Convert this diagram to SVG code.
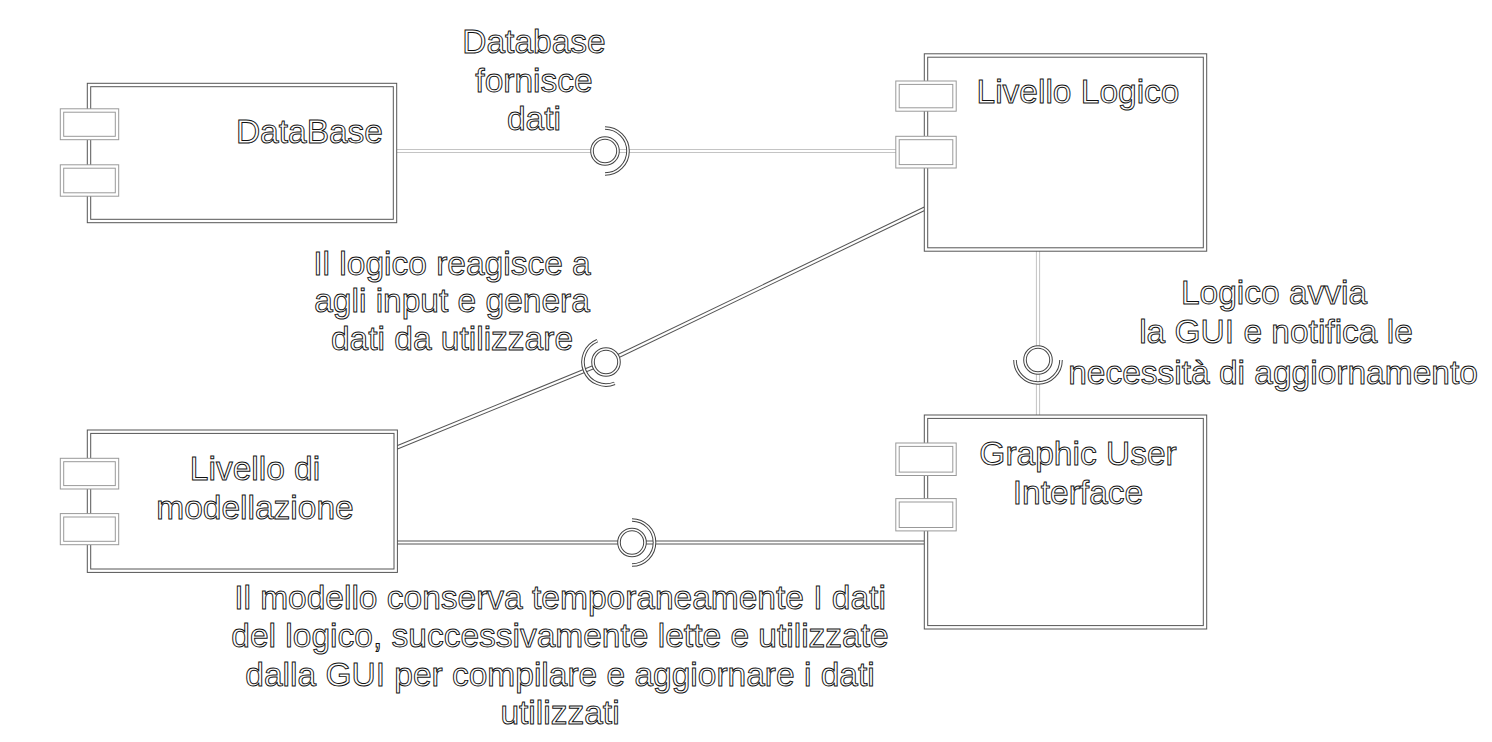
<svg xmlns="http://www.w3.org/2000/svg" xmlns:xlink="http://www.w3.org/1999/xlink" width="1492" height="742" viewBox="0 0 1492 742">
  <style>
    .bo { fill: #fff; stroke: #555; stroke-width: 4.4; }
    .po { fill: #fff; stroke: #999; stroke-width: 4.4; }
    .bi { fill: none; stroke: #fff; stroke-width: 2.4; }
    .ld { fill: none; stroke: #555; stroke-width: 4.2; }
    .ll { fill: none; stroke: #c4c4c4; stroke-width: 4.2; }
    .li { fill: none; stroke: #fff; stroke-width: 2.2; }
    .bd { fill: #fff; stroke: #444; stroke-width: 3.6; }
    .ad { fill: none; stroke: #444; stroke-width: 3.6; }
    .bw { fill: none; stroke: #fff; stroke-width: 1.6; }
    .t { font-family: "Liberation Sans", Arial, sans-serif; font-size: 33.5px; fill: #fff; stroke: #111; stroke-width: 0.95; }
    .m { text-anchor: middle; }
    .e { text-anchor: end; }
  </style>
  <defs>
    <path id="p1" d="M395,151 H897.5"/>
    <path id="p2" d="M926,208 L606,362 L395.7,448"/>
    <path id="p3" d="M1038,250 V416.7"/>
    <path id="p4" d="M395.7,542.5 H926"/>
    <circle id="b1" cx="605" cy="151" r="13"/>
    <path id="a1" d="M605,128 A23,23 0 0 1 605,174"/>
    <circle id="b2" cx="606" cy="362" r="13"/>
    <path id="a2" d="M614.7,383.3 A23,23 0 0 1 597.3,340.7"/>
    <circle id="b3" cx="1038" cy="360" r="13"/>
    <path id="a3" d="M1015,360 A23,23 0 0 0 1061,360"/>
    <circle id="b4" cx="632" cy="542.5" r="13"/>
    <path id="a4" d="M632,520 A22.5,22.5 0 0 1 632,565"/>
  </defs>
  <rect width="1492" height="742" fill="#fff"/>

  <g id="connectors">
    <use xlink:href="#p1" class="ll"/><use xlink:href="#p1" class="li"/>
    <use xlink:href="#p2" class="ld"/><use xlink:href="#p2" class="li"/>
    <use xlink:href="#p3" class="ll"/><use xlink:href="#p3" class="li"/>
    <use xlink:href="#p4" class="ld"/><use xlink:href="#p4" class="li"/>
    <use xlink:href="#b1" class="bd"/><use xlink:href="#b1" class="bw"/>
    <use xlink:href="#a1" class="ad"/><use xlink:href="#a1" class="bw"/>
    <use xlink:href="#b2" class="bd"/><use xlink:href="#b2" class="bw"/>
    <use xlink:href="#a2" class="ad"/><use xlink:href="#a2" class="bw"/>
    <use xlink:href="#b3" class="bd"/><use xlink:href="#b3" class="bw"/>
    <use xlink:href="#a3" class="ad"/><use xlink:href="#a3" class="bw"/>
    <use xlink:href="#b4" class="bd"/><use xlink:href="#b4" class="bw"/>
    <use xlink:href="#a4" class="ad"/><use xlink:href="#a4" class="bw"/>
  </g>

  <g id="database">
    <rect class="bo" x="89" y="85" width="306" height="136"/>
    <rect class="bi" x="89" y="85" width="306" height="136"/>
    <rect class="po" x="62" y="110.5" width="55" height="27.5"/>
    <rect class="bi" x="62" y="110.5" width="55" height="27.5"/>
    <rect class="po" x="62" y="166.5" width="55" height="28"/>
    <rect class="bi" x="62" y="166.5" width="55" height="28"/>
    <text class="t e" x="383" y="143">DataBase</text>
  </g>

  <g id="livello-logico">
    <rect class="bo" x="926" y="55.5" width="279" height="194"/>
    <rect class="bi" x="926" y="55.5" width="279" height="194"/>
    <rect class="po" x="897.5" y="82.7" width="57" height="26.8"/>
    <rect class="bi" x="897.5" y="82.7" width="57" height="26.8"/>
    <rect class="po" x="897.5" y="138" width="57" height="28.3"/>
    <rect class="bi" x="897.5" y="138" width="57" height="28.3"/>
    <text class="t m" x="1078" y="103">Livello Logico</text>
  </g>

  <g id="livello-modellazione">
    <rect class="bo" x="89" y="431.7" width="306.7" height="139"/>
    <rect class="bi" x="89" y="431.7" width="306.7" height="139"/>
    <rect class="po" x="62" y="460" width="55" height="27.3"/>
    <rect class="bi" x="62" y="460" width="55" height="27.3"/>
    <rect class="po" x="62" y="515.3" width="55" height="27.7"/>
    <rect class="bi" x="62" y="515.3" width="55" height="27.7"/>
    <text class="t m" x="255" y="480">Livello di</text>
    <text class="t m" x="255" y="519">modellazione</text>
  </g>

  <g id="gui">
    <rect class="bo" x="926" y="416.7" width="279" height="210.6"/>
    <rect class="bi" x="926" y="416.7" width="279" height="210.6"/>
    <rect class="po" x="897.5" y="444.7" width="57" height="29.1"/>
    <rect class="bi" x="897.5" y="444.7" width="57" height="29.1"/>
    <rect class="po" x="897.5" y="500.3" width="57" height="28.9"/>
    <rect class="bi" x="897.5" y="500.3" width="57" height="28.9"/>
    <text class="t m" x="1078" y="465">Graphic User</text>
    <text class="t m" x="1078" y="504">Interface</text>
  </g>

  <g id="labels">
    <text class="t m" x="534" y="53">Database</text>
    <text class="t m" x="534" y="92">fornisce</text>
    <text class="t m" x="534" y="130">dati</text>
    <text class="t m" x="452" y="275">Il logico reagisce a</text>
    <text class="t m" x="452" y="312">agli input e genera</text>
    <text class="t m" x="452" y="350">dati da utilizzare</text>
    <text class="t m" x="1274" y="304">Logico avvia</text>
    <text class="t m" x="1276" y="343">la GUI e notifica le</text>
    <text class="t m" x="1273" y="384">necessità di aggiornamento</text>
    <text class="t m" x="560" y="609">Il modello conserva temporaneamente I dati</text>
    <text class="t m" x="560" y="647">del logico, successivamente lette e utilizzate</text>
    <text class="t m" x="560" y="686">dalla GUI per compilare e aggiornare i dati</text>
    <text class="t m" x="560" y="724">utilizzati</text>
  </g>
</svg>
